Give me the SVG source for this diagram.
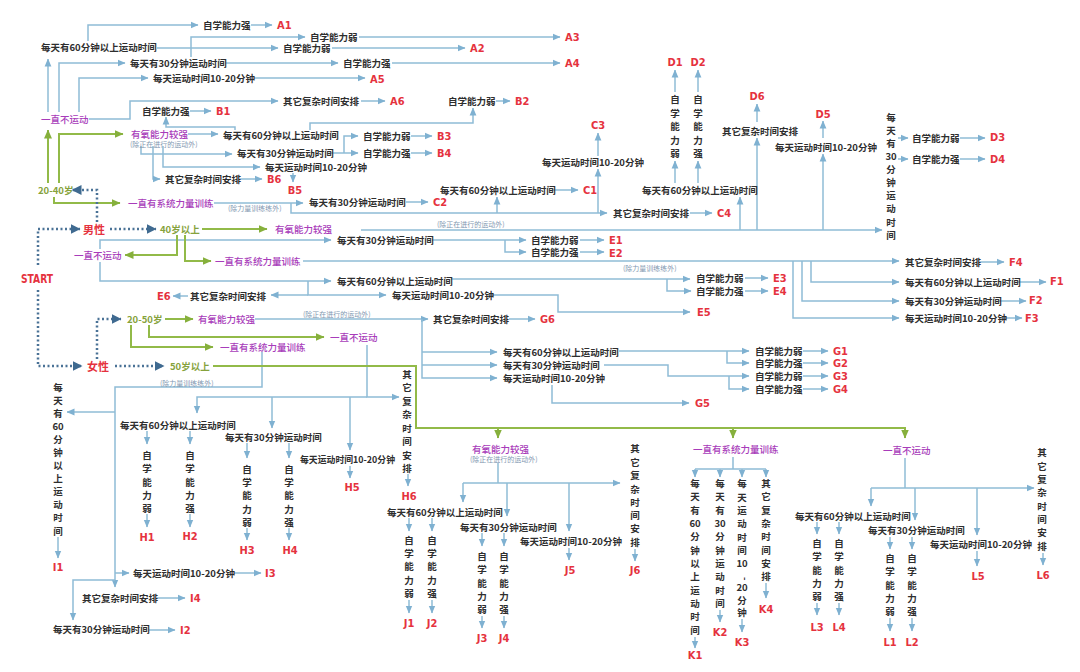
<svg xmlns="http://www.w3.org/2000/svg" width="1080" height="672" viewBox="0 0 1080 672">
<defs>
<style>
.t{font-family:"Noto Sans CJK SC","Noto Sans",sans-serif;font-size:9.5px;font-weight:700;fill:#2e2e2e;dominant-baseline:central}
.v{text-anchor:middle}
.r{font-family:"Liberation Sans Narrow","DejaVu Sans Condensed","Liberation Sans",sans-serif;font-size:11px;font-weight:700;fill:#e5323e;dominant-baseline:central}
.rc{font-family:"Noto Sans CJK SC",sans-serif;font-size:11px;font-weight:700;fill:#e5323e;dominant-baseline:central}
.p{font-family:"Noto Sans CJK SC",sans-serif;font-size:9.5px;font-weight:500;fill:#a83cba;dominant-baseline:central}
.s{font-family:"Noto Sans CJK SC",sans-serif;font-size:7px;fill:#7f97b0;dominant-baseline:central}
.gt{font-family:"Noto Sans CJK SC",sans-serif;font-size:9.5px;font-weight:700;fill:#86a23c;dominant-baseline:central}
.b{fill:none;stroke:#8fbcd6;stroke-width:1.5;marker-end:url(#ab)}
.bn{fill:none;stroke:#8fbcd6;stroke-width:1.5}
.g{fill:none;stroke:#92ba48;stroke-width:2;marker-end:url(#ag)}
.d{fill:none;stroke:#4a7296;stroke-width:2.5;stroke-dasharray:2 2.5;marker-end:url(#ad)}
</style>
<marker id="ab" viewBox="0 0 8 8" refX="7.5" refY="4" markerWidth="8" markerHeight="8" markerUnits="userSpaceOnUse" orient="auto"><path d="M0,0.6 L8,4 L0,7.4z" fill="#7fb1d1"/></marker>
<marker id="ag" viewBox="0 0 9 9" refX="8.5" refY="4.5" markerWidth="9" markerHeight="9" markerUnits="userSpaceOnUse" orient="auto"><path d="M0,0.5 L9,4.5 L0,8.5z" fill="#86b03c"/></marker>
<marker id="ad" viewBox="0 0 10 10" refX="9.5" refY="5" markerWidth="10" markerHeight="11" markerUnits="userSpaceOnUse" orient="auto"><path d="M0,0 L10,5 L0,10z" fill="#3f6a90"/></marker>
</defs>
<rect width="1080" height="672" fill="#ffffff"/>
<g id="connectors">
<!-- A -->
<path class="b" d="M48,112 V59"/>
<path class="b" d="M59,112 V63 H125"/>
<path class="b" d="M79,112 V78 H148"/>
<path class="b" d="M89,119 H130 V101 H278"/>
<path class="b" d="M88,41 V25 H198"/>
<path class="b" d="M157,48 H278"/>
<path class="b" d="M191,57 V37 H305"/>
<path class="b" d="M226,63 H338"/>
<path class="b" d="M254,78 H365"/>
<path class="b" d="M251,25 H272"/>
<path class="b" d="M359,37 H560"/>
<path class="b" d="M332,48 H465"/>
<path class="b" d="M392,63 H560"/>
<path class="b" d="M361,101 H385"/>
<!-- B -->
<path class="b" d="M188,134 H218"/>
<path class="b" d="M235,130 V127 H166 V117"/>
<path class="b" d="M190,111 H211"/>
<path class="b" d="M310,130 V123 H473 V108"/>
<path class="b" d="M496,101 H510"/>
<path class="b" d="M141,146 V154 H232"/>
<path class="b" d="M331,153 H358"/>
<path class="b" d="M344,153 V136 H358"/>
<path class="b" d="M411,136 H432"/>
<path class="b" d="M411,153 H432"/>
<path class="b" d="M163,146 V167 H260"/>
<path class="b" d="M293,173 V182"/>
<path class="b" d="M153,146 V179 H160"/>
<path class="b" d="M240,179 H262"/>
<!-- C -->
<path class="b" d="M214,203 H303"/>
<path class="b" d="M291,203 V213 H607"/>
<path class="b" d="M497,213 V197"/>
<path class="b" d="M598,213 V169"/>
<path class="b" d="M598,156 V133"/>
<path class="b" d="M552,190 H578"/>
<path class="b" d="M406,202 H428"/>
<path class="b" d="M690,213 H712"/>
<!-- D -->
<path class="b" d="M361,230 H882"/>
<path class="b" d="M740,230 V197"/>
<path class="b" d="M757,230 V138"/>
<path class="b" d="M823,230 V154"/>
<path class="b" d="M675,183 V161"/>
<path class="b" d="M698,183 V161"/>
<path class="b" d="M675,92 V70"/>
<path class="b" d="M698,92 V70"/>
<path class="b" d="M757,122 V104"/>
<path class="b" d="M823,138 V121"/>
<path class="b" d="M898,138 H908"/>
<path class="b" d="M898,159 H908"/>
<path class="b" d="M960,138 H985"/>
<path class="b" d="M960,159 H985"/>
<!-- E -->
<path class="b" d="M100,249 V240 H331"/>
<path class="b" d="M100,262 V281 H331"/>
<path class="b" d="M308,281 V295 H386"/>
<path class="b" d="M308,295 H271"/>
<path class="b" d="M188,296 H173"/>
<path class="b" d="M432,240 H526"/>
<path class="b" d="M505,240 V252 H526"/>
<path class="b" d="M580,240 H604"/>
<path class="b" d="M580,252 H604"/>
<path class="b" d="M451,279 H690"/>
<path class="b" d="M667,279 V291 H691"/>
<path class="b" d="M745,278 H768"/>
<path class="b" d="M745,291 H768"/>
<path class="b" d="M490,295 H558 V312 H690"/>
<!-- F -->
<path class="b" d="M303,261 H899"/>
<path class="b" d="M793,261 V318 H899"/>
<path class="b" d="M802,261 V301 H899"/>
<path class="b" d="M811,261 V282 H899"/>
<path class="b" d="M980,262 H1004"/>
<path class="b" d="M1018,282 H1046"/>
<path class="b" d="M999,301 H1026"/>
<path class="b" d="M1003,318 H1022"/>
<!-- G -->
<path class="b" d="M255,319 H428"/>
<path class="b" d="M422,319 V378 H497"/>
<path class="b" d="M422,352 H497"/>
<path class="b" d="M422,365 H497"/>
<path class="b" d="M509,319 H535"/>
<path class="b" d="M619,351 H749"/>
<path class="b" d="M727,351 V363 H749"/>
<path class="b" d="M604,365 H668 V376 H749"/>
<path class="b" d="M729,376 V389 H749"/>
<path class="b" d="M803,351 H828"/>
<path class="b" d="M803,363 H828"/>
<path class="b" d="M803,376 H828"/>
<path class="b" d="M803,389 H828"/>
<path class="b" d="M552,385 V403 H689"/>
<!-- H -->
<path class="b" d="M367,345 V397 H399"/>
<path class="b" d="M367,397 H197 V413"/>
<path class="b" d="M272,397 V428"/>
<path class="b" d="M350,397 V450"/>
<path class="b" d="M350,466 V478"/>
<path class="b" d="M408,474 V486"/>
<path class="b" d="M147,431 V444"/>
<path class="b" d="M190,431 V444"/>
<path class="b" d="M147,514 V527"/>
<path class="b" d="M190,514 V527"/>
<path class="b" d="M247,443 V458"/>
<path class="b" d="M289,443 V458"/>
<path class="b" d="M247,528 V540"/>
<path class="b" d="M289,528 V540"/>
<!-- I -->
<path class="b" d="M262,352 V387 H115 V587"/>
<path class="b" d="M115,412 H67"/>
<path class="b" d="M115,573 H129"/>
<path class="b" d="M115,580 H73 V620"/>
<path class="b" d="M58,537 V558"/>
<path class="b" d="M234,573 H261"/>
<path class="b" d="M157,598 H185"/>
<path class="b" d="M149,630 H175"/>
<!-- J -->
<path class="bn" d="M498,463 V483"/>
<path class="b" d="M463,483 H620"/>
<path class="b" d="M463,483 V502"/>
<path class="b" d="M507,483 V516"/>
<path class="b" d="M569,483 V531"/>
<path class="b" d="M409,518 V531"/>
<path class="b" d="M432,518 V531"/>
<path class="b" d="M409,600 V613"/>
<path class="b" d="M432,600 V613"/>
<path class="b" d="M482,533 V546"/>
<path class="b" d="M504,533 V546"/>
<path class="b" d="M482,616 V628"/>
<path class="b" d="M504,616 V628"/>
<path class="b" d="M569,548 V560"/>
<path class="b" d="M635,549 V561"/>
<!-- K -->
<path class="bn" d="M733,457 V469 M695,469 H766"/>
<path class="b" d="M695,469 V477"/>
<path class="b" d="M720,469 V477"/>
<path class="b" d="M742,469 V477"/>
<path class="b" d="M766,469 V477"/>
<path class="b" d="M695,637 V648"/>
<path class="b" d="M720,610 V622"/>
<path class="b" d="M742,619 V632"/>
<path class="b" d="M766,583 V598"/>
<!-- L -->
<path class="bn" d="M905,458 V488"/>
<path class="b" d="M871,488 H1034"/>
<path class="b" d="M871,488 V506"/>
<path class="b" d="M915,488 V520"/>
<path class="b" d="M977,488 V535"/>
<path class="b" d="M817,522 V534"/>
<path class="b" d="M839,522 V534"/>
<path class="b" d="M817,603 V615"/>
<path class="b" d="M839,603 V615"/>
<path class="b" d="M890,537 V549"/>
<path class="b" d="M912,537 V549"/>
<path class="b" d="M890,618 V631"/>
<path class="b" d="M912,618 V631"/>
<path class="b" d="M977,551 V566"/>
<path class="b" d="M1043,553 V565"/>
<!-- green -->
<path class="g" d="M48,183 V130"/>
<path class="g" d="M59,183 V134 H123"/>
<path class="g" d="M54,197 V203 H120"/>
<path class="g" d="M202,229 H267"/>
<path class="g" d="M177,235 V255 H125"/>
<path class="g" d="M185,235 V261 H211"/>
<path class="g" d="M165,319 H193"/>
<path class="g" d="M149,325 V337 H324"/>
<path class="g" d="M131,325 V347 H213"/>
<path class="g" d="M213,366 H416 V428 H905 V438"/>
<path class="g" d="M498,428 V438"/>
<path class="g" d="M733,428 V438"/>
<!-- dotted -->
<path class="d" d="M38,265 V229 H80"/>
<path class="d" d="M38,290 V366 H82"/>
<path class="d" d="M110,229 H156"/>
<path class="d" d="M97,222 V190 H72"/>
<path class="d" d="M97,359 V319 H121"/>
<path class="d" d="M115,366 H164"/>
</g>

<g id="root">
<g id="start"><text class="r" x="21" y="278" style="font-size:13px" textLength="32" lengthAdjust="spacingAndGlyphs">START</text></g>
<g id="male"><text class="rc" x="83" y="229">男性</text></g>
<g id="female"><text class="rc" x="87" y="366">女性</text></g>
<g id="m20"><text class="gt" x="38" y="190">20-40岁</text></g>
<g id="m40"><text class="gt" x="160" y="229">40岁以上</text></g>
<g id="f20"><text class="gt" x="127" y="319">20-50岁</text></g>
<g id="f50"><text class="gt" x="170" y="366">50岁以上</text></g>
</g>

<g id="m20-branches">
<g id="m20-none"><text class="p" x="41" y="119">一直不运动</text></g>
<g id="m20-aer"><text class="p" x="131" y="134">有氧能力较强</text><text class="s" x="130" y="144">(除正在进行的运动外)</text></g>
<g id="m20-str"><text class="p" x="128" y="203">一直有系统力量训练</text><text class="s" x="228" y="208">(除力量训练练外)</text></g>
</g>
<g id="m40-branches">
<g id="m40-aer"><text class="p" x="275" y="229">有氧能力较强</text><text class="s" x="437" y="224">(除正在进行的运动外)</text></g>
<g id="m40-none"><text class="p" x="74" y="255">一直不运动</text></g>
<g id="m40-str"><text class="p" x="215" y="261">一直有系统力量训练</text><text class="s" x="623" y="268">(除力量训练练外)</text></g>
</g>
<g id="f20-branches">
<g id="f20-aer"><text class="p" x="198" y="319">有氧能力较强</text><text class="s" x="303" y="314">(除正在进行的运动外)</text></g>
<g id="f20-none"><text class="p" x="330" y="337">一直不运动</text></g>
<g id="f20-str"><text class="p" x="220" y="347">一直有系统力量训练</text><text class="s" x="160" y="383">(除力量训练练外)</text></g>
</g>
<g id="f50-branches">
<g id="f50-aer"><text class="p" x="472" y="449">有氧能力较强</text><text class="s" x="470" y="459">(除正在进行的运动外)</text></g>
<g id="f50-str"><text class="p" x="693" y="449">一直有系统力量训练</text></g>
<g id="f50-none"><text class="p" x="883" y="450">一直不运动</text></g>
</g>

<g id="A">
<g id="a60"><text class="t" x="41" y="47">每天有60分钟以上运动时间</text></g>
<g id="a30"><text class="t" x="130" y="63">每天有30分钟运动时间</text></g>
<g id="a1020"><text class="t" x="153" y="78">每天运动时间10-20分钟</text></g>
<g id="aoth"><text class="t" x="283" y="101">其它复杂时间安排</text></g>
<g id="a60s"><text class="t" x="203" y="25">自学能力强</text></g>
<g id="a60w"><text class="t" x="283" y="48">自学能力弱</text></g>
<g id="a30w"><text class="t" x="310" y="37">自学能力弱</text></g>
<g id="a30s"><text class="t" x="343" y="63">自学能力强</text></g>
<g id="A1"><text class="r" x="277" y="25">A1</text></g>
<g id="A2"><text class="r" x="470" y="48">A2</text></g>
<g id="A3"><text class="r" x="565" y="37">A3</text></g>
<g id="A4"><text class="r" x="565" y="63">A4</text></g>
<g id="A5"><text class="r" x="370" y="79">A5</text></g>
<g id="A6"><text class="r" x="390" y="101">A6</text></g>
</g>

<g id="B">
<g id="b60"><text class="t" x="223" y="135">每天有60分钟以上运动时间</text></g>
<g id="b30"><text class="t" x="237" y="153">每天有30分钟运动时间</text></g>
<g id="b1020"><text class="t" x="265" y="167">每天运动时间10-20分钟</text></g>
<g id="both"><text class="t" x="165" y="179">其它复杂时间安排</text></g>
<g id="b60s"><text class="t" x="142" y="111">自学能力强</text></g>
<g id="b60w"><text class="t" x="448" y="101">自学能力弱</text></g>
<g id="b30w"><text class="t" x="363" y="136">自学能力弱</text></g>
<g id="b30s"><text class="t" x="363" y="153">自学能力强</text></g>
<g id="B1"><text class="r" x="216" y="111">B1</text></g>
<g id="B2"><text class="r" x="515" y="101">B2</text></g>
<g id="B3"><text class="r" x="437" y="136">B3</text></g>
<g id="B4"><text class="r" x="437" y="153">B4</text></g>
<g id="B5"><text class="r v" x="295" y="190">B5</text></g>
<g id="B6"><text class="r" x="267" y="179">B6</text></g>
</g>

<g id="C">
<g id="c30"><text class="t" x="309" y="202">每天有30分钟运动时间</text></g>
<g id="c60"><text class="t" x="440" y="190">每天有60分钟以上运动时间</text></g>
<g id="c1020"><text class="t" x="542" y="162">每天运动时间10-20分钟</text></g>
<g id="coth"><text class="t" x="613" y="213">其它复杂时间安排</text></g>
<g id="C1"><text class="r" x="583" y="190">C1</text></g>
<g id="C2"><text class="r" x="433" y="202">C2</text></g>
<g id="C3"><text class="r v" x="598" y="125">C3</text></g>
<g id="C4"><text class="r" x="717" y="213">C4</text></g>
</g>

<g id="D">
<g id="d60"><text class="t" x="642" y="190">每天有60分钟以上运动时间</text></g>
<g id="d60w"><text class="t v"><tspan x="675" y="99">自</tspan><tspan x="675" y="112.5">学</tspan><tspan x="675" y="126">能</tspan><tspan x="675" y="139.5">力</tspan><tspan x="675" y="153">弱</tspan></text></g>
<g id="d60s"><text class="t v"><tspan x="698" y="99">自</tspan><tspan x="698" y="112.5">学</tspan><tspan x="698" y="126">能</tspan><tspan x="698" y="139.5">力</tspan><tspan x="698" y="153">强</tspan></text></g>
<g id="doth"><text class="t" x="722" y="131">其它复杂时间安排</text></g>
<g id="d1020"><text class="t" x="775" y="147">每天运动时间10-20分钟</text></g>
<g id="d30"><text class="t v"><tspan x="891" y="117">每</tspan><tspan x="891" y="130">天</tspan><tspan x="891" y="143">有</tspan><tspan x="891" y="156">30</tspan><tspan x="891" y="169">分</tspan><tspan x="891" y="182">钟</tspan><tspan x="891" y="195">运</tspan><tspan x="891" y="208">动</tspan><tspan x="891" y="222">时</tspan><tspan x="891" y="235">间</tspan></text></g>
<g id="d30w"><text class="t" x="912" y="138">自学能力弱</text></g>
<g id="d30s"><text class="t" x="912" y="159">自学能力强</text></g>
<g id="D1"><text class="r v" x="675" y="62">D1</text></g>
<g id="D2"><text class="r v" x="698" y="62">D2</text></g>
<g id="D3"><text class="r" x="990" y="137">D3</text></g>
<g id="D4"><text class="r" x="990" y="159">D4</text></g>
<g id="D5"><text class="r v" x="823" y="114">D5</text></g>
<g id="D6"><text class="r v" x="757" y="96">D6</text></g>
</g>

<g id="E">
<g id="e30"><text class="t" x="337" y="240">每天有30分钟运动时间</text></g>
<g id="e30w"><text class="t" x="531" y="240">自学能力弱</text></g>
<g id="e30s"><text class="t" x="531" y="252">自学能力强</text></g>
<g id="e60"><text class="t" x="337" y="281">每天有60分钟以上运动时间</text></g>
<g id="e1020"><text class="t" x="392" y="295">每天运动时间10-20分钟</text></g>
<g id="eoth"><text class="t" x="190" y="296">其它复杂时间安排</text></g>
<g id="e60w"><text class="t" x="696" y="278">自学能力弱</text></g>
<g id="e60s"><text class="t" x="696" y="291">自学能力强</text></g>
<g id="E1"><text class="r" x="609" y="240">E1</text></g>
<g id="E2"><text class="r" x="609" y="253">E2</text></g>
<g id="E3"><text class="r" x="773" y="278">E3</text></g>
<g id="E4"><text class="r" x="773" y="291">E4</text></g>
<g id="E5"><text class="r" x="697" y="312">E5</text></g>
<g id="E6"><text class="r" x="157" y="296">E6</text></g>
</g>

<g id="F">
<g id="foth"><text class="t" x="905" y="262">其它复杂时间安排</text></g>
<g id="f60"><text class="t" x="905" y="282">每天有60分钟以上运动时间</text></g>
<g id="f30"><text class="t" x="905" y="301">每天有30分钟运动时间</text></g>
<g id="f1020"><text class="t" x="905" y="318">每天运动时间10-20分钟</text></g>
<g id="F1"><text class="r" x="1050" y="281">F1</text></g>
<g id="F2"><text class="r" x="1029" y="300">F2</text></g>
<g id="F3"><text class="r" x="1025" y="318">F3</text></g>
<g id="F4"><text class="r" x="1009" y="262">F4</text></g>
</g>

<g id="G">
<g id="goth"><text class="t" x="433" y="319">其它复杂时间安排</text></g>
<g id="g60"><text class="t" x="503" y="352">每天有60分钟以上运动时间</text></g>
<g id="g30"><text class="t" x="503" y="365">每天有30分钟运动时间</text></g>
<g id="g1020"><text class="t" x="503" y="378">每天运动时间10-20分钟</text></g>
<g id="g60w"><text class="t" x="755" y="351">自学能力弱</text></g>
<g id="g60s"><text class="t" x="755" y="363">自学能力强</text></g>
<g id="g30w"><text class="t" x="755" y="376">自学能力弱</text></g>
<g id="g30s"><text class="t" x="755" y="389">自学能力强</text></g>
<g id="G1"><text class="r" x="833" y="351">G1</text></g>
<g id="G2"><text class="r" x="833" y="363">G2</text></g>
<g id="G3"><text class="r" x="833" y="376">G3</text></g>
<g id="G4"><text class="r" x="833" y="389">G4</text></g>
<g id="G5"><text class="r" x="695" y="403">G5</text></g>
<g id="G6"><text class="r" x="540" y="319">G6</text></g>
</g>

<g id="H">
<g id="hoth"><text class="t v"><tspan x="407" y="374">其</tspan><tspan x="407" y="387">它</tspan><tspan x="407" y="401">复</tspan><tspan x="407" y="414">杂</tspan><tspan x="407" y="428">时</tspan><tspan x="407" y="441">间</tspan><tspan x="407" y="455">安</tspan><tspan x="407" y="468">排</tspan></text></g>
<g id="h60"><text class="t" x="120" y="425">每天有60分钟以上运动时间</text></g>
<g id="h30"><text class="t" x="225" y="437">每天有30分钟运动时间</text></g>
<g id="h1020"><text class="t" x="300" y="459" textLength="95" lengthAdjust="spacingAndGlyphs">每天运动时间10-20分钟</text></g>
<g id="h60w"><text class="t v"><tspan x="147" y="455">自</tspan><tspan x="147" y="468">学</tspan><tspan x="147" y="482">能</tspan><tspan x="147" y="495">力</tspan><tspan x="147" y="508">弱</tspan></text></g>
<g id="h60s"><text class="t v"><tspan x="190" y="455">自</tspan><tspan x="190" y="468">学</tspan><tspan x="190" y="482">能</tspan><tspan x="190" y="495">力</tspan><tspan x="190" y="508">强</tspan></text></g>
<g id="h30w"><text class="t v"><tspan x="247" y="469">自</tspan><tspan x="247" y="482">学</tspan><tspan x="247" y="495">能</tspan><tspan x="247" y="509">力</tspan><tspan x="247" y="522">弱</tspan></text></g>
<g id="h30s"><text class="t v"><tspan x="289" y="469">自</tspan><tspan x="289" y="482">学</tspan><tspan x="289" y="495">能</tspan><tspan x="289" y="509">力</tspan><tspan x="289" y="522">强</tspan></text></g>
<g id="H1"><text class="r v" x="147" y="537">H1</text></g>
<g id="H2"><text class="r v" x="190" y="536">H2</text></g>
<g id="H3"><text class="r v" x="247" y="550">H3</text></g>
<g id="H4"><text class="r v" x="290" y="550">H4</text></g>
<g id="H5"><text class="r v" x="352" y="487">H5</text></g>
<g id="H6"><text class="r v" x="409" y="496">H6</text></g>
</g>

<g id="I">
<g id="i60"><text class="t v"><tspan x="58" y="387">每</tspan><tspan x="58" y="400">天</tspan><tspan x="58" y="413">有</tspan><tspan x="58" y="426">60</tspan><tspan x="58" y="439">分</tspan><tspan x="58" y="452">钟</tspan><tspan x="58" y="465">以</tspan><tspan x="58" y="478">上</tspan><tspan x="58" y="491">运</tspan><tspan x="58" y="504">动</tspan><tspan x="58" y="517">时</tspan><tspan x="58" y="531">间</tspan></text></g>
<g id="i1020"><text class="t" x="133" y="573">每天运动时间10-20分钟</text></g>
<g id="ioth"><text class="t" x="82" y="598">其它复杂时间安排</text></g>
<g id="i30"><text class="t" x="53" y="629">每天有30分钟运动时间</text></g>
<g id="I1"><text class="r v" x="58" y="567">I1</text></g>
<g id="I2"><text class="r" x="180" y="630">I2</text></g>
<g id="I3"><text class="r" x="265" y="573">I3</text></g>
<g id="I4"><text class="r" x="190" y="598">I4</text></g>
</g>

<g id="J">
<g id="j60"><text class="t" x="387" y="512">每天有60分钟以上运动时间</text></g>
<g id="j30"><text class="t" x="460" y="527">每天有30分钟运动时间</text></g>
<g id="j1020"><text class="t" x="520" y="541">每天运动时间10-20分钟</text></g>
<g id="joth"><text class="t v"><tspan x="635" y="448">其</tspan><tspan x="635" y="462">它</tspan><tspan x="635" y="475">复</tspan><tspan x="635" y="489">杂</tspan><tspan x="635" y="502">时</tspan><tspan x="635" y="515">间</tspan><tspan x="635" y="528">安</tspan><tspan x="635" y="542">排</tspan></text></g>
<g id="j60w"><text class="t v"><tspan x="409" y="540">自</tspan><tspan x="409" y="553">学</tspan><tspan x="409" y="566">能</tspan><tspan x="409" y="580">力</tspan><tspan x="409" y="593">弱</tspan></text></g>
<g id="j60s"><text class="t v"><tspan x="432" y="540">自</tspan><tspan x="432" y="553">学</tspan><tspan x="432" y="566">能</tspan><tspan x="432" y="580">力</tspan><tspan x="432" y="593">强</tspan></text></g>
<g id="j30w"><text class="t v"><tspan x="482" y="556">自</tspan><tspan x="482" y="569">学</tspan><tspan x="482" y="583">能</tspan><tspan x="482" y="596">力</tspan><tspan x="482" y="609">弱</tspan></text></g>
<g id="j30s"><text class="t v"><tspan x="504" y="556">自</tspan><tspan x="504" y="569">学</tspan><tspan x="504" y="583">能</tspan><tspan x="504" y="596">力</tspan><tspan x="504" y="609">强</tspan></text></g>
<g id="J1"><text class="r v" x="409" y="623">J1</text></g>
<g id="J2"><text class="r v" x="432" y="623">J2</text></g>
<g id="J3"><text class="r v" x="482" y="638">J3</text></g>
<g id="J4"><text class="r v" x="504" y="638">J4</text></g>
<g id="J5"><text class="r v" x="570" y="570">J5</text></g>
<g id="J6"><text class="r v" x="635" y="570">J6</text></g>
</g>

<g id="K">
<g id="k60"><text class="t v"><tspan x="695" y="483">每</tspan><tspan x="695" y="496">天</tspan><tspan x="695" y="510">有</tspan><tspan x="695" y="523">60</tspan><tspan x="695" y="536">分</tspan><tspan x="695" y="550">钟</tspan><tspan x="695" y="563">以</tspan><tspan x="695" y="576">上</tspan><tspan x="695" y="590">运</tspan><tspan x="695" y="603">动</tspan><tspan x="695" y="616">时</tspan><tspan x="695" y="630">间</tspan></text></g>
<g id="k30"><text class="t v"><tspan x="720" y="483">每</tspan><tspan x="720" y="496">天</tspan><tspan x="720" y="510">有</tspan><tspan x="720" y="523">30</tspan><tspan x="720" y="536">分</tspan><tspan x="720" y="550">钟</tspan><tspan x="720" y="563">运</tspan><tspan x="720" y="576">动</tspan><tspan x="720" y="590">时</tspan><tspan x="720" y="603">间</tspan></text></g>
<g id="k1020"><text class="t v"><tspan x="742" y="483">每</tspan><tspan x="742" y="497">天</tspan><tspan x="742" y="510">运</tspan><tspan x="742" y="523">动</tspan><tspan x="742" y="537">时</tspan><tspan x="742" y="550">间</tspan><tspan x="742" y="563">10</tspan><tspan x="744" y="573" rotate="90">-</tspan><tspan x="742" y="587">20</tspan><tspan x="742" y="600">分</tspan><tspan x="742" y="612">钟</tspan></text></g>
<g id="koth"><text class="t v"><tspan x="766" y="483">其</tspan><tspan x="766" y="496">它</tspan><tspan x="766" y="510">复</tspan><tspan x="766" y="523">杂</tspan><tspan x="766" y="536">时</tspan><tspan x="766" y="550">间</tspan><tspan x="766" y="563">安</tspan><tspan x="766" y="576">排</tspan></text></g>
<g id="K1"><text class="r v" x="695" y="655">K1</text></g>
<g id="K2"><text class="r v" x="720" y="632">K2</text></g>
<g id="K3"><text class="r v" x="742" y="642">K3</text></g>
<g id="K4"><text class="r v" x="766" y="609">K4</text></g>
</g>

<g id="L">
<g id="l60"><text class="t" x="795" y="516">每天有60分钟以上运动时间</text></g>
<g id="l30"><text class="t" x="868" y="530">每天有30分钟运动时间</text></g>
<g id="l1020"><text class="t" x="930" y="544">每天运动时间10-20分钟</text></g>
<g id="loth"><text class="t v"><tspan x="1042" y="452">其</tspan><tspan x="1042" y="466">它</tspan><tspan x="1042" y="479">复</tspan><tspan x="1042" y="492">杂</tspan><tspan x="1042" y="506">时</tspan><tspan x="1042" y="519">间</tspan><tspan x="1042" y="532">安</tspan><tspan x="1042" y="546">排</tspan></text></g>
<g id="l60w"><text class="t v"><tspan x="817" y="543">自</tspan><tspan x="817" y="556">学</tspan><tspan x="817" y="570">能</tspan><tspan x="817" y="583">力</tspan><tspan x="817" y="596">弱</tspan></text></g>
<g id="l60s"><text class="t v"><tspan x="839" y="543">自</tspan><tspan x="839" y="556">学</tspan><tspan x="839" y="570">能</tspan><tspan x="839" y="583">力</tspan><tspan x="839" y="596">强</tspan></text></g>
<g id="l30w"><text class="t v"><tspan x="890" y="558">自</tspan><tspan x="890" y="571">学</tspan><tspan x="890" y="585">能</tspan><tspan x="890" y="598">力</tspan><tspan x="890" y="611">弱</tspan></text></g>
<g id="l30s"><text class="t v"><tspan x="912" y="558">自</tspan><tspan x="912" y="571">学</tspan><tspan x="912" y="585">能</tspan><tspan x="912" y="598">力</tspan><tspan x="912" y="611">强</tspan></text></g>
<g id="L1"><text class="r v" x="890" y="642">L1</text></g>
<g id="L2"><text class="r v" x="912" y="642">L2</text></g>
<g id="L3"><text class="r v" x="817" y="627">L3</text></g>
<g id="L4"><text class="r v" x="839" y="627">L4</text></g>
<g id="L5"><text class="r v" x="978" y="576">L5</text></g>
<g id="L6"><text class="r v" x="1043" y="575">L6</text></g>
</g>
</svg>
